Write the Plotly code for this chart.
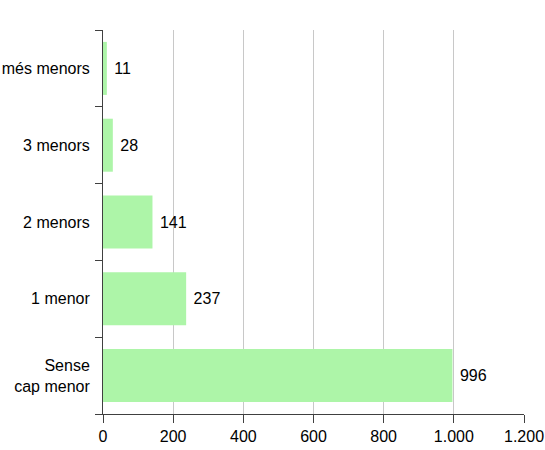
import plotly.graph_objects as go

categories = ["Sense<br>cap menor", "1 menor", "2 menors", "3 menors", "4 o més menors"]
values = [996, 237, 141, 28, 11]
x_ticks = [0, 200, 400, 600, 800, 1000, 1200]

fig = go.Figure(go.Bar(
    y=categories, x=values, orientation="h",
    marker=dict(color="#adf5a8", line=dict(width=0)),
    width=0.69,
    text=["\u00a0" + str(v) for v in values], textposition="outside",
    textfont=dict(size=16, color="#000000"),
    cliponaxis=False,
))

fig.update_layout(
    width=545, height=450,
    margin=dict(l=103, r=21, t=30, b=36),
    plot_bgcolor="white", paper_bgcolor="white",
    font=dict(family="Liberation Sans, Arial, sans-serif", size=16, color="#000000"),
    separators=",.",
    showlegend=False,
    xaxis=dict(
        range=[0, 1200], tickvals=x_ticks, tickformat=",d",
        showgrid=True, gridcolor="#c8c8c8", gridwidth=1,
        showline=True, linecolor="#404040", linewidth=1,
        ticks="outside", ticklen=8, tickcolor="#404040",
        zeroline=False, automargin=False,
    ),
    yaxis=dict(
        type="category", tickson="boundaries",
        showline=True, linecolor="#404040", linewidth=1,
        ticks="outside", ticklen=7, tickcolor="#404040",
        showgrid=False, automargin=False, ticklabelstandoff=9,
    ),
)

fig.write_html(
    "out.html",
    config={"displayModeBar": False},
    post_script="document.body.style.margin='0';document.body.style.overflow='hidden';",
)
